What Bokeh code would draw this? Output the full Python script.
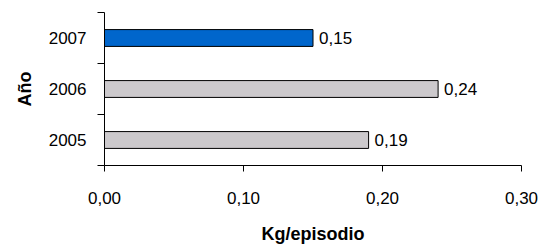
from bokeh.plotting import figure
from bokeh.models import ColumnDataSource, FixedTicker, Range1d, LabelSet, LinearAxis
from bokeh.core.properties import value
from bokeh.embed import file_html
from bokeh.resources import INLINE

years = ["2005", "2006", "2007"]
values = [0.19, 0.24, 0.15]
value_labels = ["0,19", "0,24", "0,15"]
colors = ["#CCC9CC", "#CCC9CC", "#0066CC"]
x_ticks = [0.0, 0.1, 0.2, 0.3]
x_tick_labels = ["0,00", "0,10", "0,20", "0,30"]

ypos = [i + 0.5 for i in range(len(years))]
bounds = [float(i) for i in range(len(years) + 1)]
src = ColumnDataSource(dict(y=ypos, v=values, lab=value_labels, c=colors))

FONT = "Liberation Sans"

p = figure(width=541, height=246, output_backend="svg", toolbar_location=None,
           x_range=Range1d(0, 0.3), y_range=Range1d(0, len(years)),
           min_border_left=104, min_border_right=20, min_border_top=12, min_border_bottom=76)
p.outline_line_color = None
p.xgrid.grid_line_color = None
p.ygrid.grid_line_color = None
p.background_fill_color = "white"
p.border_fill_color = "white"

p.hbar(y="y", right="v", left=0, height=0.33, fill_color="c", line_color="black",
       line_width=1, source=src)

labels = LabelSet(x="v", y="y", text="lab", source=src, x_offset=6,
                  text_baseline="middle", text_align="left",
                  text_font=value(FONT), text_font_size="17px", text_color="black")
p.add_layout(labels)

# x axis
xa = p.xaxis[0]
xa.ticker = FixedTicker(ticks=x_ticks, minor_ticks=[])
xa.major_label_overrides = {t: l for t, l in zip(x_ticks, x_tick_labels)}
xa.major_tick_in = 0
xa.major_tick_out = 6
xa.minor_tick_out = 0
xa.minor_tick_in = 0
xa.axis_line_color = "black"
xa.major_tick_line_color = "black"
xa.major_label_text_font = FONT
xa.major_label_text_font_size = "17px"
xa.major_label_text_color = "black"
xa.major_label_standoff = 20
xa.axis_label = "Kg/episodio"
xa.axis_label_text_font = FONT
xa.axis_label_text_font_size = "18px"
xa.axis_label_text_font_style = "bold"
xa.axis_label_text_color = "black"
xa.axis_label_standoff = 17

# inner y axis: line and ticks at category boundaries
ya = p.yaxis[0]
ya.ticker = FixedTicker(ticks=bounds, minor_ticks=[])
ya.major_label_overrides = {b: "" for b in bounds}
ya.major_tick_in = 0
ya.major_tick_out = 7
ya.minor_tick_in = 0
ya.minor_tick_out = 0
ya.major_tick_line_color = "black"
ya.axis_line_color = "black"
ya.major_label_standoff = 0

# outer y axis: year labels at category centres, axis title
ylab = LinearAxis(ticker=FixedTicker(ticks=ypos, minor_ticks=[]))
ylab.major_label_overrides = {y: l for y, l in zip(ypos, years)}
ylab.axis_line_color = None
ylab.major_tick_line_color = None
ylab.minor_tick_line_color = None
ylab.major_tick_in = 0
ylab.major_tick_out = 0
ylab.minor_tick_in = 0
ylab.minor_tick_out = 0
ylab.major_label_text_font = FONT
ylab.major_label_text_font_size = "17px"
ylab.major_label_text_color = "black"
ylab.major_label_standoff = 11
ylab.axis_label = "Año"
ylab.axis_label_text_font = FONT
ylab.axis_label_text_font_size = "18px"
ylab.axis_label_text_font_style = "bold"
ylab.axis_label_text_color = "black"
ylab.axis_label_standoff = 11
p.add_layout(ylab, "left")

open("out.html", "w").write(file_html(p, INLINE))
